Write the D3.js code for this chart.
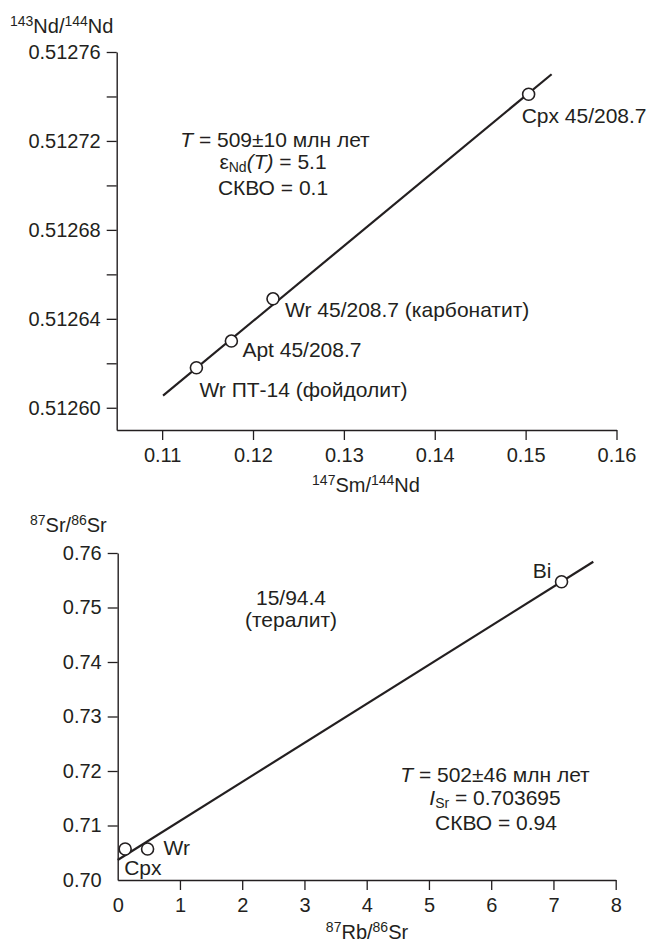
<!DOCTYPE html>
<html><head><meta charset="utf-8">
<script src="https://cdn.jsdelivr.net/npm/d3@7"></script>
<style>
html,body{margin:0;padding:0;background:#fff;}
svg{display:block;font-family:"Liberation Sans",Arial,Helvetica,sans-serif;}
</style></head>
<body>
<script>
// ---- Sm-Nd panel data ----
const ndSamples = ["Wr ПТ-14 (фойдолит)", "Apt 45/208.7", "Wr 45/208.7 (карбонатит)", "Cpx 45/208.7"];
const ndSmNd = [0.11377, 0.11762, 0.1222, 0.15033];
const ndNdNd = [0.512618, 0.512630, 0.512649, 0.512741];
const ndLineX = [0.1101, 0.15286];
const ndLineY = [0.5126055, 0.51275];
const ndXTicks = [0.11, 0.12, 0.13, 0.14, 0.15, 0.16];
const ndYTicks = [0.51260, 0.51262, 0.51264, 0.51266, 0.51268, 0.51270, 0.51272, 0.51274, 0.51276];
const ndYLabelled = [0.51260, 0.51264, 0.51268, 0.51272, 0.51276];

// ---- Rb-Sr panel data ----
const srSamples = ["Cpx", "Wr", "Bi"];
const srRbSr = [0.12, 0.48, 7.13];
const srSrSr = [0.70569, 0.70569, 0.75473];
const srLineX = [0, 7.64];
const srLineY = [0.70367, 0.7584];
const srXTicks = [0, 1, 2, 3, 4, 5, 6, 7, 8];
const srYTicks = [0.70, 0.71, 0.72, 0.73, 0.74, 0.75, 0.76];

const INK = "#231f20";
const W = 651, H = 945;
const svg = d3.select("body").append("svg").attr("width", W).attr("height", H);

function drawAxes(g, x, y, xTicks, yTicks, xFmt, yFmt, yLabelled, skipXTick0, skipYTick0) {
  const xAxis = d3.axisBottom(x).tickValues(xTicks).tickFormat(xFmt).tickSize(10).tickPadding(8).tickSizeOuter(0);
  const yAxis = d3.axisLeft(y).tickValues(yTicks).tickFormat(d => yLabelled.some(v => Math.abs(v - d) < 1e-9) ? yFmt(d) : "").tickSize(10).tickPadding(6).tickSizeOuter(0);
  const gx = g.append("g").attr("transform", `translate(0,${y.range()[0]})`).call(xAxis);
  const gy = g.append("g").attr("transform", `translate(${x.range()[0]},0)`).call(yAxis);
  [gx, gy].forEach(a => {
    a.selectAll("path.domain").attr("stroke", INK).attr("stroke-width", 1.4);
    a.selectAll(".tick line").attr("stroke", INK).attr("stroke-width", 1.3);
    a.selectAll(".tick text").attr("fill", INK).style("font-size", "20px").style("font-family", "'Liberation Sans',Arial,sans-serif");
  });
  if (skipXTick0) gx.selectAll(".tick").filter(d => d === xTicks[0]).select("line").remove();
  if (skipYTick0) gy.selectAll(".tick").filter(d => d === yTicks[0]).select("line").remove();
}

function supText(g, x, y, parts, anchor, size) {
  const t = g.append("text").attr("x", x).attr("y", y).attr("fill", INK).attr("text-anchor", anchor || "start").style("font-size", (size || 20) + "px");
  parts.forEach(p => {
    const s = t.append("tspan").text(p.t);
    if (p.sup) s.style("font-size", "14px").attr("baseline-shift", "7");
    if (p.sub) s.style("font-size", "14px").attr("baseline-shift", "-3");
    if (p.it) s.style("font-style", "italic");
  });
  return t;
}

// ================= Top panel: Sm-Nd =================
const gTop = svg.append("g");
const xN = d3.scaleLinear().domain([0.105, 0.16]).range([116.7, 616.5]);
const yN = d3.scaleLinear().domain([0.51259, 0.51276]).range([430, 52]);
drawAxes(gTop, xN, yN, ndXTicks, ndYTicks, d3.format(".2f"), d3.format(".5f"), ndYLabelled, false, false);

gTop.append("line")
  .attr("x1", xN(ndLineX[0])).attr("y1", yN(ndLineY[0]))
  .attr("x2", xN(ndLineX[1])).attr("y2", yN(ndLineY[1]))
  .attr("stroke", INK).attr("stroke-width", 2.2);

const ndLabelOff = [[3, 29], [11, 16], [12, 18], [-7, 29]];
ndSmNd.forEach((v, i) => {
  gTop.append("circle").attr("cx", xN(v)).attr("cy", yN(ndNdNd[i])).attr("r", 6)
    .attr("fill", "#fff").attr("stroke", INK).attr("stroke-width", 1.6);
  gTop.append("text").attr("x", xN(v) + ndLabelOff[i][0]).attr("y", yN(ndNdNd[i]) + ndLabelOff[i][1])
    .attr("fill", INK).style("font-size", "21px").text(ndSamples[i]);
});

supText(gTop, 10, 33, [{t: "143", sup: true}, {t: "Nd/"}, {t: "144", sup: true}, {t: "Nd"}]);
supText(gTop, 366, 492, [{t: "147", sup: true}, {t: "Sm/"}, {t: "144", sup: true}, {t: "Nd"}], "middle");

supText(gTop, 275, 147, [{t: "T", it: true}, {t: " = 509±10 млн лет"}], "middle", 21);
supText(gTop, 273, 169, [{t: "ε"}, {t: "Nd", sub: true}, {t: "(T)", it: true}, {t: " = 5.1"}], "middle", 21);
supText(gTop, 273, 195, [{t: "СКВО = 0.1"}], "middle", 21);

// ================= Bottom panel: Rb-Sr =================
const gBot = svg.append("g");
const xR = d3.scaleLinear().domain([0, 8]).range([117.7, 615.7]);
const yR = d3.scaleLinear().domain([0.70, 0.76]).range([880, 553]);
drawAxes(gBot, xR, yR, srXTicks, srYTicks, d3.format("d"), d3.format(".2f"), srYTicks, true, true);

gBot.append("line")
  .attr("x1", xR(srLineX[0])).attr("y1", yR(srLineY[0]))
  .attr("x2", xR(srLineX[1])).attr("y2", yR(srLineY[1]))
  .attr("stroke", INK).attr("stroke-width", 2.2);

const srLabelOff = [[-1, 26, "start"], [16, 6, "start"], [-10, -4, "end"]];
srRbSr.forEach((v, i) => {
  gBot.append("circle").attr("cx", xR(v)).attr("cy", yR(srSrSr[i])).attr("r", 6)
    .attr("fill", "#fff").attr("stroke", INK).attr("stroke-width", 1.6);
  gBot.append("text").attr("x", xR(v) + srLabelOff[i][0]).attr("y", yR(srSrSr[i]) + srLabelOff[i][1])
    .attr("text-anchor", srLabelOff[i][2])
    .attr("fill", INK).style("font-size", "21px").text(srSamples[i]);
});

supText(gBot, 30, 532, [{t: "87", sup: true}, {t: "Sr/"}, {t: "86", sup: true}, {t: "Sr"}]);
supText(gBot, 367, 939, [{t: "87", sup: true}, {t: "Rb/"}, {t: "86", sup: true}, {t: "Sr"}], "middle");

supText(gBot, 291, 605, [{t: "15/94.4"}], "middle", 21);
supText(gBot, 291, 627, [{t: "(тералит)"}], "middle", 21);

supText(gBot, 495, 782, [{t: "T", it: true}, {t: " = 502±46 млн лет"}], "middle", 21);
supText(gBot, 495, 805, [{t: "I", it: true}, {t: "Sr", sub: true}, {t: " = 0.703695"}], "middle", 21);
supText(gBot, 496, 830, [{t: "СКВО = 0.94"}], "middle", 21);
</script>
</body></html>
